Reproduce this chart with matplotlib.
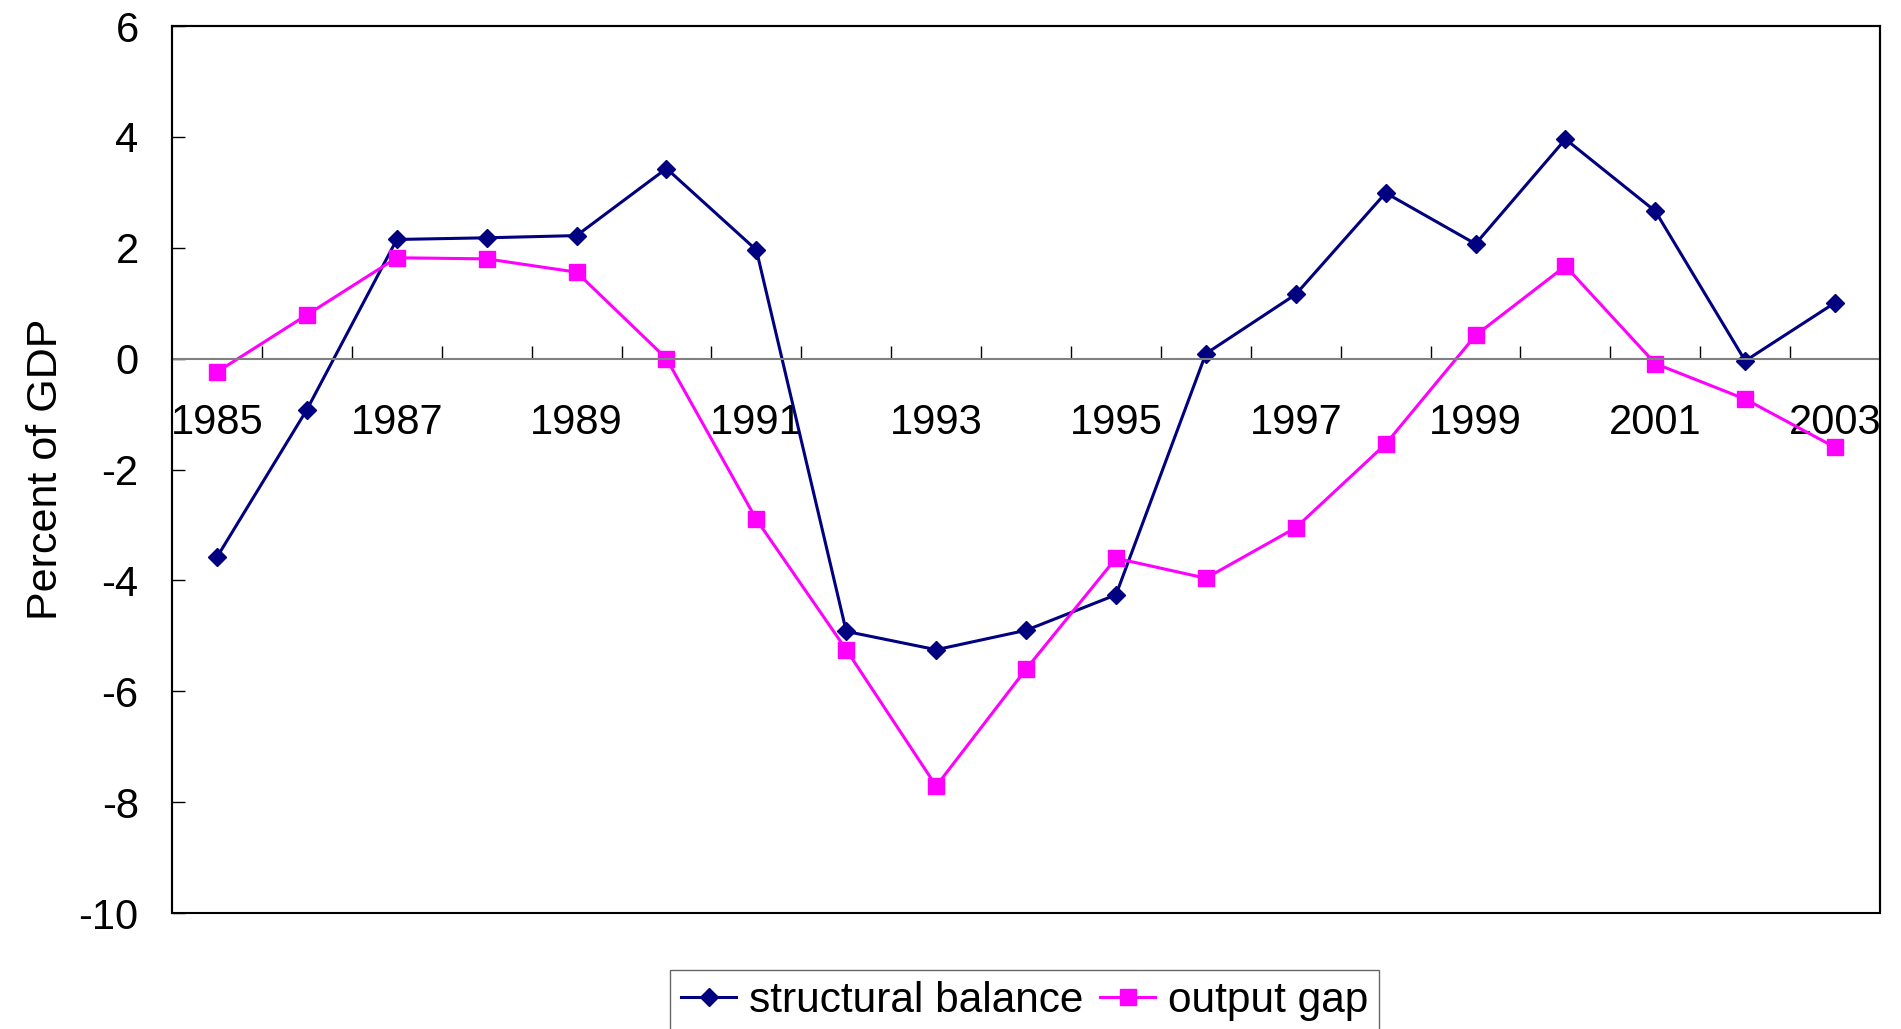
import numpy as np
import matplotlib
matplotlib.use('Agg')
import matplotlib.pyplot as plt
from matplotlib.patches import Rectangle
from matplotlib.ticker import FixedLocator

plt.rcParams['font.family'] = ['Liberation Sans', 'DejaVu Sans']
plt.rcParams['axes.unicode_minus'] = False

# data
years = [str(y) for y in range(1985, 2004)]
structural_balance = [-3.58, -0.92, 2.15, 2.18, 2.22, 3.43, 1.96, -4.92, -5.25, -4.90,
                      -4.26, 0.09, 1.16, 2.99, 2.07, 3.96, 2.66, -0.04, 1.01]
output_gap = [-0.24, 0.79, 1.82, 1.80, 1.56, 0.0, -2.90, -5.25, -7.71, -5.60,
              -3.60, -3.96, -3.05, -1.54, 0.42, 1.67, -0.09, -0.73, -1.60]
y_ticks = [-10, -8, -6, -4, -2, 0, 2, 4, 6]

fig = plt.figure(figsize=(19.01, 10.29), dpi=100)
ax = fig.add_axes([0.0905, 0.1127, 0.8985, 0.862])

x = np.arange(len(years))
ax.plot(x, structural_balance, color='#000080', lw=2.2, marker='D', ms=9,
        label='structural balance')
ax.plot(x, output_gap, color='#FF00FF', lw=2.2, marker='s', ms=12,
        label='output gap')

ax.set_xlim(-0.5, len(years) - 0.5)
ax.set_ylim(-10, 6)

# category axis crossing at zero
ax.spines['bottom'].set_position(('data', 0))
ax.spines['bottom'].set_color('#808080')
ax.spines['bottom'].set_linewidth(1.5)
for s in ['top', 'right', 'left']:
    ax.spines[s].set_color('black')
    ax.spines[s].set_linewidth(1.5)
ax.add_patch(Rectangle((0, 0), 1, 1, transform=ax.transAxes, fill=False,
                       edgecolor='black', lw=1.5, clip_on=False, zorder=5))

ax.xaxis.set_major_locator(FixedLocator(x[::2]))
ax.set_xticklabels(years[::2])
ax.xaxis.set_minor_locator(FixedLocator(np.arange(0.5, len(years) - 1, 1)))
ax.tick_params(axis='x', which='major', length=0, pad=32, labelsize=30)
ax.tick_params(axis='x', which='minor', direction='in', length=9.5, width=1, color='black')

ax.set_yticks(y_ticks)
ax.tick_params(axis='y', direction='in', length=9.5, width=1, pad=24, labelsize=30)
ax.set_ylabel('Percent of GDP', fontsize=31, labelpad=9)

fig.legend(loc='upper center', bbox_to_anchor=(0.539, 0.057), ncol=2, fontsize=30.5,
           frameon=True, fancybox=False, edgecolor='#404040', handlelength=1.3,
           handletextpad=0.3, columnspacing=0.4, borderpad=0.25, borderaxespad=0)

fig.savefig('out.png', dpi=100)
